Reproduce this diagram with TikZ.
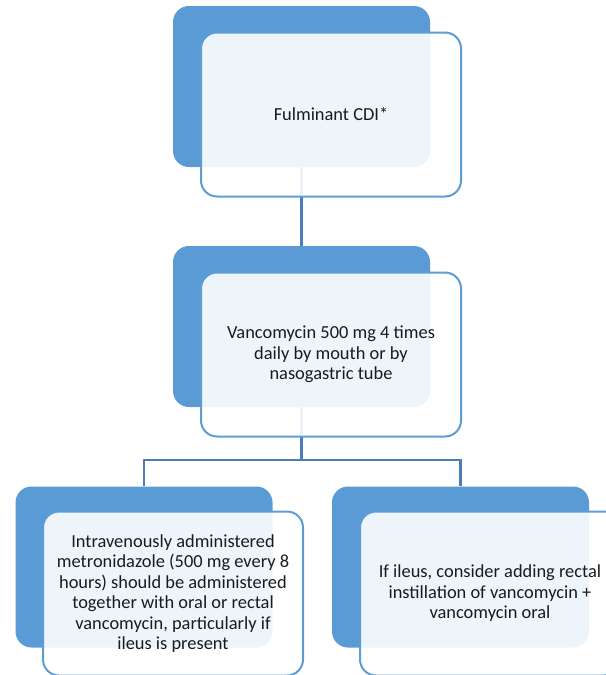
\documentclass[tikz,border=0pt]{standalone}
\usepackage{fontspec}
\setmainfont{Carlito}
\definecolor{backblue}{HTML}{5B9BD5}
\definecolor{frontline}{HTML}{5E9CD6}
\definecolor{linkblue}{HTML}{4A7EBB}
\definecolor{txt}{HTML}{1A1A1A}
\begin{document}
\begin{tikzpicture}[x=0.75pt,y=-0.75pt,
  backbox/.style={draw=none,fill=backblue,rounded corners=12pt,
    minimum width=192.75pt,minimum height=120.75pt,inner sep=0pt},
  frontbox/.style={draw=frontline,line width=1.5pt,fill=white,fill opacity=0.9,
    text opacity=1,rounded corners=12pt,minimum width=195pt,minimum height=123pt,
    inner sep=0pt,align=center,text=txt,
    font=\fontsize{13.8pt}{15.4pt}\selectfont},
  link/.style={draw=linkblue,line width=1.6pt}]
\useasboundingbox (0,0) rectangle (606,675);
\clip (0,0) rectangle (606,675);
% back boxes
\node[backbox] (topback) at (301.5,86.5) {};
\node[backbox] (midback) at (301.5,326.5) {};
\node[backbox] (blback) at (144,567) {};
\node[backbox] (brback) at (460.5,567) {};
% connectors
\coordinate (junction) at (301.5,460);
\draw[link] (topback.south) -- (midback.north);
\draw[link] (midback.south) -- (junction);
\draw[link] (junction) -| (blback.north);
\draw[link] (junction) -| (brback.north);
% front boxes
\node[frontbox] (topfront) at (331,114.5) {Fulminant CDI*};
\node[frontbox] (midfront) at (331,354.5) {Vancomycin 500 mg 4 times\\daily by mouth or by\\nasogastric tube};
\node[frontbox] (blfront) at (173,593.5) {Intravenously administered\\metronidazole (500 mg every 8\\hours) should be administered\\together with oral or rectal\\vancomycin, particularly if\\ileus is present};
\node[frontbox] (brfront) at (490,593.5) {If ileus, consider adding rectal\\instillation of vancomycin +\\vancomycin oral};
\end{tikzpicture}
\end{document}
